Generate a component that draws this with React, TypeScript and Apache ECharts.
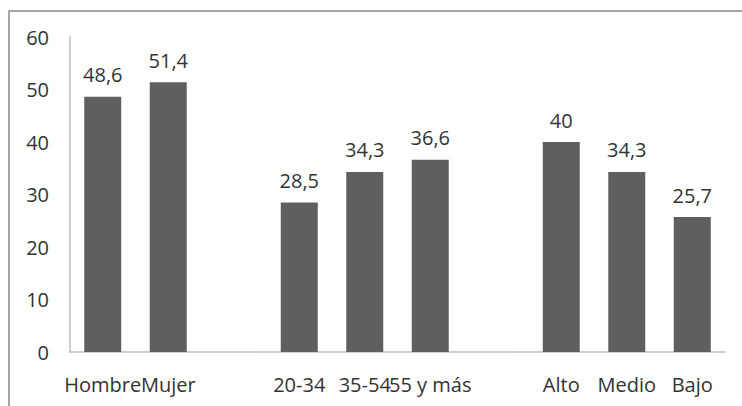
import React, { useEffect, useRef } from "react";
import * as echarts from "echarts";

const categories = ["Hombre", "Mujer", "", "20-34", "35-54", "55 y más", "", "Alto", "Medio", "Bajo"];
const values: (number | null)[] = [48.6, 51.4, null, 28.5, 34.3, 36.6, null, 40, 34.3, 25.7];
const yTicks = { min: 0, max: 60, interval: 10 };

export default function App() {
  const ref = useRef<HTMLDivElement>(null);
  useEffect(() => {
    document.body.style.margin = "0";
    if (!ref.current) return;
    const chart = echarts.init(ref.current, undefined, { renderer: "svg" });
    const font = "'Open Sans', sans-serif";
    chart.setOption({
      animation: false,
      backgroundColor: "#ffffff",
      textStyle: { fontFamily: font },
      graphic: [
        {
          type: "rect",
          shape: { x: 9, y: 11, width: 900, height: 600 },
          style: { fill: "none", stroke: "#8a8a8a", lineWidth: 1.5 },
          silent: true,
        },
      ],
      grid: { left: 70, right: 17, top: 37, bottom: 54, containLabel: false },
      xAxis: {
        type: "category",
        data: categories,
        axisLine: { show: true, lineStyle: { color: "#bfbfbf", width: 1.5 } },
        axisTick: { show: false },
        axisLabel: { color: "#333333", fontSize: 20, fontFamily: font, margin: 22, interval: 0 },
      },
      yAxis: {
        type: "value",
        min: yTicks.min,
        max: yTicks.max,
        interval: yTicks.interval,
        axisLine: { show: true, lineStyle: { color: "#bfbfbf", width: 1.5 } },
        axisTick: { show: false },
        splitLine: { show: false },
        axisLabel: { color: "#333333", fontSize: 20, fontFamily: font, margin: 21 },
      },
      series: [
        {
          type: "bar",
          data: values.map((v) => (v === null ? "-" : v)),
          barWidth: 37,
          itemStyle: { color: "#5f5f5f" },
          label: {
            show: true,
            position: "top",
            distance: 12,
            color: "#333333",
            fontSize: 20,
            fontFamily: font,
            formatter: (p: any) => String(p.value).replace(".", ","),
          },
        },
      ],
    });
    return () => chart.dispose();
  }, []);
  return <div ref={ref} style={{ width: 742, height: 406 }} />;
}
